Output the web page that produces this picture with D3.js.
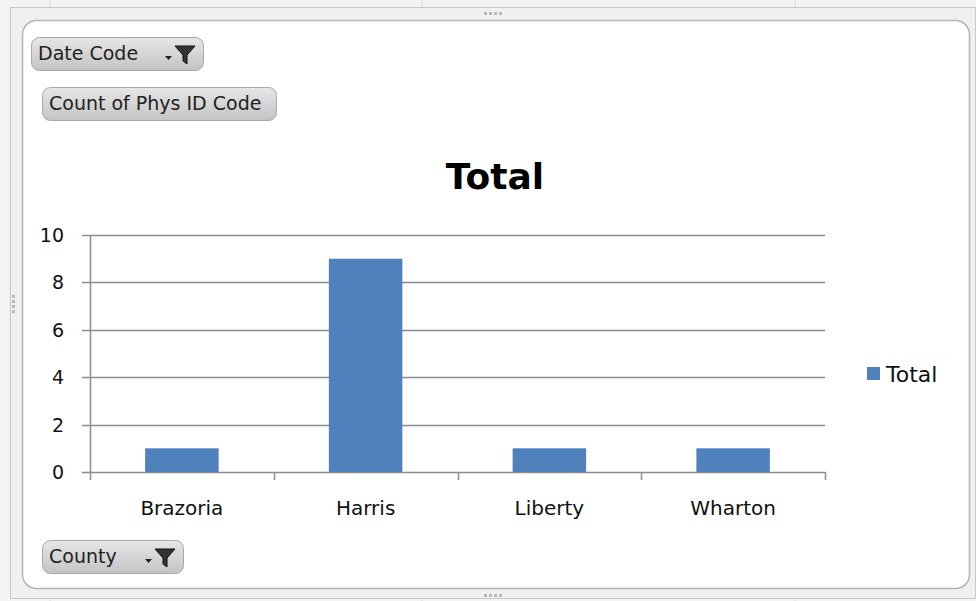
<!DOCTYPE html>
<html>
<head>
<meta charset="utf-8">
<script src="https://cdn.jsdelivr.net/npm/d3@7"></script>
<style>
  body { margin: 0; background: #fff; }
  svg { display: block; font-family: "DejaVu Sans", Tahoma, sans-serif; }
</style>
</head>
<body>
<div id="chart"></div>
<script>
const counties = ['Brazoria', 'Harris', 'Liberty', 'Wharton'];
const totals = [1, 9, 1, 1];
const yTicks = [0, 2, 4, 6, 8, 10];
const seriesName = 'Total';
const chartTitle = 'Total';
const pageFields = ['Date Code'];
const valueFields = ['Count of Phys ID Code'];
const axisFields = ['County'];

const W = 976, H = 601;
const svg = d3.select('#chart').append('svg').attr('width', W).attr('height', H);

// gradient for the field buttons
const defs = svg.append('defs');
const grad = defs.append('linearGradient').attr('id', 'btn').attr('x1', 0).attr('y1', 0).attr('x2', 0).attr('y2', 1);
grad.append('stop').attr('offset', '0%').attr('stop-color', '#e6e6e6');
grad.append('stop').attr('offset', '100%').attr('stop-color', '#c4c4c4');

// spreadsheet background + chart frame
svg.append('rect').attr('width', W).attr('height', H).attr('fill', '#f3f3f3');
[50, 422, 795].forEach(x => svg.append('line')
    .attr('x1', x).attr('x2', x).attr('y1', 0).attr('y2', H)
    .attr('stroke', '#dcdcdc'));
svg.append('rect').attr('x', 10.5).attr('y', 7.5).attr('width', 965).attr('height', 591)
    .attr('fill', '#f0f0f0').attr('stroke', '#c8c8c8');
svg.append('rect').attr('x', 22.5).attr('y', 20.5).attr('width', 947).attr('height', 568)
    .attr('rx', 14).attr('fill', '#fff').attr('stroke', '#b4b4b4').attr('stroke-width', 1.5);

// sizing handles
const handle = (x, y, vertical) => {
  for (let i = 0; i < 4; i++) {
    svg.append('rect')
      .attr('x', vertical ? x : x + i * 5).attr('y', vertical ? y + i * 5 : y)
      .attr('width', 3).attr('height', 3).attr('fill', '#b8b8b8');
  }
};
handle(484, 12, false);
handle(484, 594, false);
handle(12, 295, true);

// scales
const x = d3.scaleBand().domain(counties).range([90, 825]).paddingInner(0.6).paddingOuter(0.3);
const y = d3.scaleLinear().domain([0, 10]).range([472, 235]);

// gridlines
svg.append('g').selectAll('line').data(yTicks).join('line')
    .attr('x1', 82).attr('x2', 825)
    .attr('y1', d => Math.round(y(d)) + 0.5).attr('y2', d => Math.round(y(d)) + 0.5)
    .attr('stroke', '#8c8c8c').attr('stroke-width', 1.5);

svg.append('g').selectAll('text').data(yTicks).join('text')
    .attr('x', 64).attr('y', d => y(d) + 7)
    .attr('text-anchor', 'end').attr('font-size', 19).attr('fill', '#111')
    .text(d => d);

// y axis line
svg.append('line').attr('x1', 90.5).attr('x2', 90.5).attr('y1', y(10)).attr('y2', y(0))
    .attr('stroke', '#8c8c8c').attr('stroke-width', 1.5);

// category tick marks
const step = x.step();
const boundaries = d3.range(counties.length + 1).map(i => x.range()[0] + i * step);
svg.append('g').selectAll('line').data(boundaries).join('line')
    .attr('x1', d => Math.round(d) + 0.5).attr('x2', d => Math.round(d) + 0.5)
    .attr('y1', y(0)).attr('y2', y(0) + 8)
    .attr('stroke', '#8c8c8c').attr('stroke-width', 1.5);

// bars
svg.append('g').selectAll('rect').data(totals).join('rect')
    .attr('x', (d, i) => x(counties[i]))
    .attr('width', x.bandwidth())
    .attr('y', d => y(d))
    .attr('height', d => y(0) - y(d))
    .attr('fill', '#4f81bd');

// category labels
svg.append('g').selectAll('text').data(counties).join('text')
    .attr('x', d => x(d) + x.bandwidth() / 2).attr('y', 515)
    .attr('text-anchor', 'middle').attr('font-size', 20).attr('fill', '#111')
    .text(d => d);

// title
svg.append('text').attr('x', 495).attr('y', 189).attr('text-anchor', 'middle')
    .attr('font-size', 36).attr('font-weight', 'bold').attr('fill', '#000')
    .text(chartTitle);

// legend
svg.append('rect').attr('x', 867).attr('y', 367).attr('width', 13).attr('height', 13).attr('fill', '#4f81bd');
svg.append('text').attr('x', 886).attr('y', 382).attr('font-size', 22).attr('fill', '#111').text(seriesName);

// pivot field buttons
const button = (bx, by, bw, label, filter) => {
  const g = svg.append('g');
  g.append('rect').attr('x', bx + 0.5).attr('y', by + 0.5).attr('width', bw).attr('height', 33)
      .attr('rx', 8).attr('fill', 'url(#btn)').attr('stroke', '#a8a8a8');
  g.append('text').attr('x', bx + 7).attr('y', by + 23).attr('font-size', 19).attr('fill', '#222')
      .text(label);
  if (filter) {
    const fx = bx + bw - 36, fy = by + 9;
    g.append('path').attr('d', `M${fx - 2} ${fy + 10}h7l-3.5 4z`).attr('fill', '#222');
    g.append('path')
      .attr('d', `M${fx + 8} ${fy}h20l-8 9v9l-4 -3v-6z`)
      .attr('fill', '#333').attr('stroke', '#111').attr('stroke-width', 1);
  }
};
button(31, 37, 172, pageFields[0], true);
button(42, 87, 234, valueFields[0], false);
button(42, 540, 141, axisFields[0], true);
</script>
</body>
</html>
